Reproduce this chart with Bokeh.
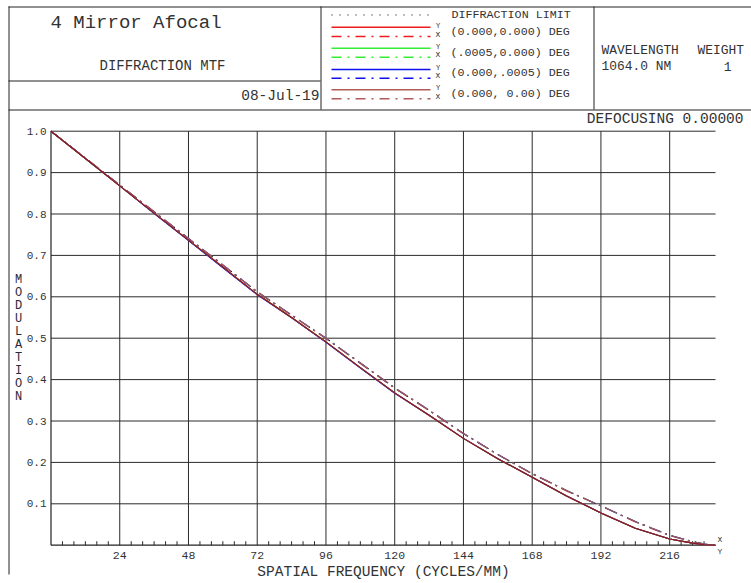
from bokeh.plotting import figure
from bokeh.models import Range1d
from bokeh.embed import file_html
from bokeh.resources import INLINE
from bokeh.core.properties import value

# ---------------- data ----------------
freq = [0, 12, 24, 36, 48, 60, 72, 84, 96, 108, 120, 132, 144, 156, 168,
        180, 192, 204, 216, 224, 228, 232]
diffraction_limit = [1.000, 0.935, 0.870, 0.805, 0.741, 0.677, 0.612, 0.556,
                     0.500, 0.440, 0.380, 0.326, 0.270, 0.219, 0.173, 0.132,
                     0.095, 0.057, 0.024, 0.009, 0.003, 0.000]
# field 1 (0.000,0.000) red
red_T = [1.000, 0.934, 0.868, 0.802, 0.737, 0.671, 0.606, 0.550, 0.491, 0.429,
         0.368, 0.314, 0.258, 0.209, 0.164, 0.119, 0.078, 0.041, 0.015, 0.005,
         0.001, 0.000]
red_S = [1.000, 0.935, 0.870, 0.806, 0.741, 0.676, 0.612, 0.555, 0.499, 0.439,
         0.379, 0.325, 0.269, 0.219, 0.172, 0.131, 0.095, 0.056, 0.023, 0.008,
         0.003, 0.000]
# field 2 (.0005,0.000) green
green_T = [1.000, 0.934, 0.868, 0.802, 0.737, 0.671, 0.606, 0.550, 0.491, 0.429,
           0.368, 0.314, 0.258, 0.209, 0.164, 0.119, 0.078, 0.041, 0.015, 0.005,
           0.001, 0.000]
green_S = [1.000, 0.935, 0.870, 0.805, 0.741, 0.677, 0.612, 0.556, 0.500, 0.440,
           0.380, 0.326, 0.270, 0.219, 0.173, 0.132, 0.095, 0.057, 0.024, 0.009,
           0.003, 0.000]
# field 3 (0.000,.0005) blue
blue_T = [1.000, 0.934, 0.868, 0.801, 0.736, 0.670, 0.605, 0.549, 0.490, 0.428,
          0.367, 0.314, 0.258, 0.209, 0.164, 0.119, 0.078, 0.041, 0.015, 0.005,
          0.001, 0.000]
blue_S = [1.000, 0.935, 0.870, 0.805, 0.741, 0.677, 0.612, 0.556, 0.500, 0.440,
          0.380, 0.326, 0.270, 0.219, 0.173, 0.132, 0.095, 0.057, 0.024, 0.009,
          0.003, 0.000]
# field 4 (0.000, 0.00) brown
brown_T = [1.000, 0.934, 0.868, 0.802, 0.737, 0.672, 0.606, 0.550, 0.491, 0.429,
           0.368, 0.314, 0.258, 0.209, 0.164, 0.119, 0.078, 0.041, 0.015, 0.005,
           0.001, 0.000]
brown_S = [1.000, 0.935, 0.870, 0.805, 0.741, 0.677, 0.612, 0.556, 0.500, 0.440,
           0.380, 0.326, 0.270, 0.219, 0.173, 0.132, 0.095, 0.057, 0.024, 0.009,
           0.003, 0.000]

field_labels = ["(0.000,0.000) DEG", "(.0005,0.000) DEG",
                "(0.000,.0005) DEG", "(0.000, 0.00) DEG"]
field_colors = ["#ee1c1c", "#33ee33", "#1010ee", "#b05a5a"]
x_ticks = [24, 48, 72, 96, 120, 144, 168, 192, 216]
x_tick_labels = ["24", "48", "72", "96", "120", "144", "168", "192", "216"]
x_minor = [4, 8, 12, 16, 20, 28, 32, 36, 40, 44, 52, 56, 60, 64, 68, 76, 80,
           84, 88, 92, 100, 104, 108, 112, 116, 124, 128, 132, 136, 140, 148,
           152, 156, 160, 164, 172, 176, 180, 184, 188, 196, 200, 204, 208,
           212, 220, 224, 228]
y_ticks = [0.1, 0.2, 0.3, 0.4, 0.5, 0.6, 0.7, 0.8, 0.9, 1.0]
y_tick_labels = ["0.1", "0.2", "0.3", "0.4", "0.5", "0.6", "0.7", "0.8",
                 "0.9", "1.0"]
X_MAX = 232

title = "4 Mirror Afocal"
subtitle = "DIFFRACTION MTF"
date_text = "08-Jul-19"
y_label = "MODULATION"
x_label = "SPATIAL FREQUENCY (CYCLES/MM)"

# ---------------- layout geometry (pixels) ----------------
W, H = 751, 583
PX_L, PX_R = 50.5, 715.0
PY_B, PY_T = 544.7, 130.7
KX = (PX_R - PX_L) / X_MAX
KY = (PY_B - PY_T) / 1.0


def dx(px):
    return (px - PX_L) / KX


def dy(py):
    return (PY_B - py) / KY


FONT = value("Liberation Mono")
TXT = "#333333"

p = figure(width=W, height=H, x_range=Range1d(dx(0), dx(W)),
           y_range=Range1d(dy(H), dy(0)), x_axis_type=None, y_axis_type=None,
           output_backend="svg", toolbar_location=None,
           min_border=0, min_border_left=0, min_border_right=0,
           min_border_top=0, min_border_bottom=0)
p.outline_line_color = None
p.background_fill_color = "white"
p.border_fill_color = "white"


def label(px, py, txt, size, align="left", baseline="middle", color=TXT,
          style="normal"):
    p.text(x=[dx(px)], y=[dy(py)], text=[txt], text_font=FONT,
           text_font_size=size, text_align=align, text_baseline=baseline,
           text_color=color, text_font_style=style)


def hline(px0, px1, py, color="#222222", width=1.0):
    p.line([dx(px0), dx(px1)], [dy(py), dy(py)], line_color=color,
           line_width=width)


def vline(px, py0, py1, color="#222222", width=1.0):
    p.line([dx(px), dx(px)], [dy(py0), dy(py1)], line_color=color,
           line_width=width)


# ---------------- header frame ----------------
hline(8, W, 6.5)
vline(8.5, 6, 574)
hline(8, 320, 80.5)
hline(8, W, 109.5)
vline(320.5, 6, 109)
vline(593.5, 6, 109)

label(50, 22, title, "19px")
label(99, 65, subtitle, "14px")
label(319, 95, date_text, "14.5px", align="right")

# legend
LX0, LX1 = 331, 430
p.line([dx(LX0), dx(LX1)], [dy(14.5), dy(14.5)], line_color="black",
       line_dash="1 7", line_width=1.2)
label(451, 14, "DIFFRACTION LIMIT", "11.7px")
row_solid = [26.7, 47.7, 69.0, 89.3]
row_dash = [36.0, 56.7, 77.7, 98.3]
row_text = [31.7, 52.3, 72.7, 93.3]
for i in range(4):
    c = field_colors[i]
    p.line([dx(LX0), dx(LX1)], [dy(row_solid[i])] * 2, line_color=c,
           line_width=1.6)
    p.line([dx(LX0), dx(LX1)], [dy(row_dash[i])] * 2, line_color=c,
           line_width=1.6, line_dash="10 6 2 6")
    label(437.5, row_solid[i] - 1.5, "Y", "7px", align="center")
    label(437.5, row_dash[i] - 2.5, "X", "8px", align="center")
    label(450, row_text[i], field_labels[i], "11.7px")

label(601, 50, "WAVELENGTH", "12.9px")
label(697, 50, "WEIGHT", "12.9px")
label(601, 66, "1064.0 NM", "12.9px")
label(727, 66, "1", "12.9px", align="center")

label(743, 118, "DEFOCUSING 0.00000", "14.5px", align="right")

# ---------------- chart grid & axes ----------------
GRID = "#2b2b2b"
p.segment(x0=x_ticks, y0=[0] * len(x_ticks), x1=x_ticks,
          y1=[1.0] * len(x_ticks), line_color=GRID, line_width=1)
p.segment(x0=[0] * len(y_ticks), y0=y_ticks, x1=[X_MAX] * len(y_ticks),
          y1=y_ticks, line_color=GRID, line_width=1)
p.segment(x0=x_minor, y0=[0] * len(x_minor), x1=x_minor,
          y1=[dy(PY_B - 4)] * len(x_minor), line_color=GRID, line_width=1)
p.line([0, X_MAX], [0, 0], line_color="#222222", line_width=1.2)
p.line([0, 0], [0, 1.0], line_color="#222222", line_width=1.2)

p.text(x=x_ticks, y=[dy(555)] * len(x_ticks), text=x_tick_labels,
       text_font=FONT, text_font_size="11.5px", text_align="center",
       text_baseline="middle", text_color=TXT)
p.text(x=[dx(46)] * len(y_ticks), y=y_ticks, text=y_tick_labels,
       text_font=FONT, text_font_size="11px", text_align="right",
       text_baseline="middle", text_color=TXT)

label(383, 571, x_label, "14.5px", align="center")
for k, ch in enumerate(y_label):
    label(18, 279 + 13.1 * k, ch, "12px", align="center",
          color="#2a2a3a")
label(719.5, 538.5, "X", "8px", align="center")
label(719.5, 551, "Y", "8px", align="center")

# ---------------- curves ----------------
p.line(freq, diffraction_limit, line_color="black", line_width=1.2,
       line_dash="1 5")
series = [(red_T, red_S), (green_T, green_S), (blue_T, blue_S),
          (brown_T, brown_S)]
for (t, s), c in zip(series, field_colors):
    p.line(freq, t, line_color=c, line_width=1.1)
    p.line(freq, s, line_color=c, line_width=1.1, line_dash="12 5 2 5")
# polychromatic curves drawn in darker tone on top
p.line(freq, brown_T, line_color="#8a1a1a", line_width=1.1)

open("out.html", "w").write(file_html(p, INLINE))
